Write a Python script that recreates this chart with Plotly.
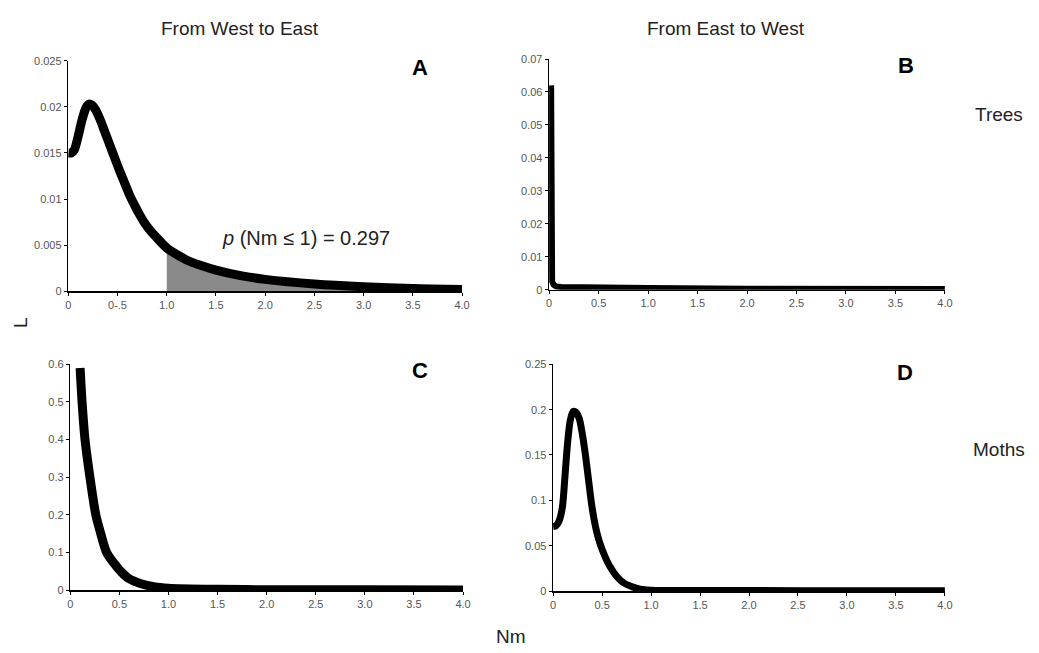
import plotly.graph_objects as go

W, H = 1039, 653

# ---------------- data ----------------
x_ticks = [0, 0.5, 1.0, 1.5, 2.0, 2.5, 3.0, 3.5, 4.0]
x_ticktext_A = ["0", "0-.5", "1.0", "1.5", "2.0", "2.5", "3.0", "3.5", "4.0"]
x_ticktext = ["0", "0.5", "1.0", "1.5", "2.0", "2.5", "3.0", "3.5", "4.0"]

A_yticks = [0, 0.005, 0.01, 0.015, 0.02, 0.025]
A_yticktext = ["0", "0.005", "0.01", "0.015", "0.02", "0.025"]
B_yticks = [0, 0.01, 0.02, 0.03, 0.04, 0.05, 0.06, 0.07]
B_yticktext = ["0", "0.01", "0.02", "0.03", "0.04", "0.05", "0.06", "0.07"]
C_yticks = [0, 0.1, 0.2, 0.3, 0.4, 0.5, 0.6]
C_yticktext = ["0", "0.1", "0.2", "0.3", "0.4", "0.5", "0.6"]
D_yticks = [0, 0.05, 0.1, 0.15, 0.2, 0.25]
D_yticktext = ["0", "0.05", "0.1", "0.15", "0.2", "0.25"]

A_x = [0, 0.03, 0.06, 0.1, 0.14, 0.18, 0.21, 0.24, 0.27, 0.32, 0.37, 0.42, 0.47,
       0.52, 0.57, 0.62, 0.67, 0.72, 0.77, 0.84, 0.9, 1.0, 1.1, 1.2, 1.35, 1.5,
       1.75, 2.0, 2.5, 3.0, 3.5, 4.0]
A_y = [0.0150, 0.0150, 0.0153, 0.0168, 0.0186, 0.0199, 0.0203, 0.0202, 0.0198,
       0.0187, 0.0173, 0.0159, 0.0145, 0.0131, 0.0118, 0.0105, 0.0094, 0.0084,
       0.0075, 0.0065, 0.0058, 0.0047, 0.0040, 0.0034, 0.0028, 0.0023,
       0.0017, 0.0013, 0.0008, 0.0005, 0.0003, 0.0002]
A_shade_from = 1.0

B_x = [0.02, 0.02, 0.022, 0.03, 0.045, 0.07, 0.12, 0.5, 1.0, 2.0, 3.0, 4.0]
B_y = [0.062, 0.010, 0.005, 0.0025, 0.0015, 0.0010, 0.0008, 0.0006, 0.0005,
       0.0003, 0.0002, 0.0002]

C_x = [0.1, 0.12, 0.15, 0.2, 0.26, 0.3, 0.37, 0.45, 0.52, 0.6, 0.72, 0.85, 1.0,
       1.5, 2.0, 3.0, 4.0]
C_y = [0.59, 0.50, 0.40, 0.30, 0.20, 0.16, 0.10, 0.07, 0.048, 0.03, 0.017, 0.009,
       0.005, 0.002, 0.001, 0.0008, 0.0005]

D_x = [0, 0.03, 0.06, 0.094, 0.12, 0.146, 0.175, 0.205, 0.235, 0.267, 0.3, 0.33,
       0.36, 0.39, 0.42, 0.45, 0.48, 0.53, 0.58, 0.65, 0.72, 0.8, 0.89, 1.0, 1.5,
       2.0, 3.0, 4.0]
D_y = [0.071, 0.072, 0.077, 0.092, 0.125, 0.161, 0.188, 0.198, 0.197, 0.190,
       0.172, 0.150, 0.124, 0.098, 0.078, 0.063, 0.052, 0.038, 0.027, 0.016,
       0.009, 0.005, 0.002, 0.001, 0.0006, 0.0005, 0.0004, 0.0004]

# ---------------- layout helpers ----------------
FONT = "Liberation Sans, Arial, sans-serif"


def px_x(p):
    return p / W


def px_y(p):
    return 1 - p / H


# panel pixel boxes: (left, right, top, bottom)
boxes = {
    "A": (66, 464, 55.7, 290.7),
    "B": (552, 952, 54, 289),
    "C": (68, 465, 365, 595),
    "D": (556, 952, 365, 596),
}

fig = go.Figure()

# A: shaded area
sx = [x for x in A_x if x >= A_shade_from]
sy = [y for x, y in zip(A_x, A_y) if x >= A_shade_from]
fig.add_trace(go.Scatter(x=sx, y=sy, mode="lines", fill="tozeroy",
                         fillcolor="#8a8a8a", line=dict(width=0, color="#8a8a8a", shape="spline"),
                         xaxis="x", yaxis="y", hoverinfo="skip"))
fig.add_trace(go.Scatter(x=A_x, y=A_y, mode="lines",
                         line=dict(width=9, color="black", shape="spline", smoothing=0.8),
                         xaxis="x", yaxis="y"))
fig.add_trace(go.Scatter(x=B_x, y=B_y, mode="lines",
                         line=dict(width=6, color="black"),
                         xaxis="x2", yaxis="y2"))
fig.add_trace(go.Scatter(x=C_x, y=C_y, mode="lines",
                         line=dict(width=9, color="black", shape="spline", smoothing=0.8),
                         xaxis="x3", yaxis="y3"))
fig.add_trace(go.Scatter(x=D_x, y=D_y, mode="lines",
                         line=dict(width=7, color="black", shape="spline", smoothing=0.8),
                         xaxis="x4", yaxis="y4"))

axis_common = dict(showline=True, linecolor="black", linewidth=1.5, ticks="outside",
                   ticklen=3, tickwidth=1, tickcolor="black", showgrid=False,
                   zeroline=False, tickfont=dict(family=FONT, size=11, color="#555555"),
                   fixedrange=True)

specs = [
    ("A", "xaxis", "yaxis", "y", "x", x_ticktext_A, A_yticks, A_yticktext, 0.025),
    ("B", "xaxis2", "yaxis2", "y2", "x2", x_ticktext, B_yticks, B_yticktext, 0.07),
    ("C", "xaxis3", "yaxis3", "y3", "x3", x_ticktext, C_yticks, C_yticktext, 0.6),
    ("D", "xaxis4", "yaxis4", "y4", "x4", x_ticktext, D_yticks, D_yticktext, 0.25),
]
layout_axes = {}
for key, xa, ya, yref, xref, xtt, ytv, ytt, ymax in specs:
    l, r, t, b = boxes[key]
    layout_axes[xa] = dict(axis_common, domain=[px_x(l), px_x(r)], range=[0, 4],
                           tickvals=x_ticks, ticktext=xtt, anchor=yref)
    layout_axes[ya] = dict(axis_common, domain=[px_y(b), px_y(t)], range=[0, ymax],
                           tickvals=ytv, ticktext=ytt, anchor=xref)

annotations = []


def add_text(text, xp, yp, size, bold=False, angle=0, color="#222222"):
    annotations.append(dict(text=f"<b>{text}</b>" if bold else text,
                            x=px_x(xp), y=px_y(yp), xref="paper", yref="paper",
                            showarrow=False, xanchor="center", yanchor="middle",
                            textangle=angle,
                            font=dict(family=FONT, size=size, color=color)))


add_text("From West to East", 240, 22.5, 19)
add_text("From East to West", 731, 22.5, 19)
add_text("Trees", 1007, 110.5, 19)
add_text("Moths", 1007, 452, 19)
add_text("L", 17, 322, 19, angle=-90)
add_text("Nm", 513, 642, 19)
add_text("A", 421, 62.5, 22, bold=True, color="black")
add_text("B", 912.5, 61, 22, bold=True, color="black")
add_text("C", 421.5, 371, 22, bold=True, color="black")
add_text("D", 912, 373, 22, bold=True, color="black")
add_text("<i>p</i> (Nm ≤ 1) = 0.297", 306, 236, 20)

fig.update_layout(width=W, height=H, margin=dict(l=0, r=0, t=0, b=0),
                  paper_bgcolor="white", plot_bgcolor="white", showlegend=False,
                  annotations=annotations, **layout_axes)

css_js = ("var s=document.createElement('style');"
          "s.textContent='html,body{margin:0!important;padding:0!important;overflow:hidden!important;}';"
          "document.head.appendChild(s);")
fig.write_html("out.html", config={"displayModeBar": False, "staticPlot": True},
               post_script=css_js)
